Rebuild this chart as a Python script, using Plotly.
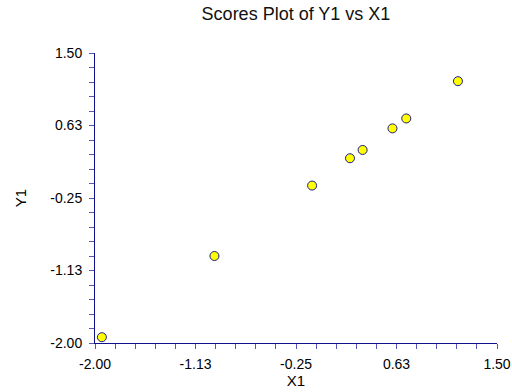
import plotly.graph_objects as go

# Data
x1_scores = [-1.94, -0.96, -0.11, 0.22, 0.33, 0.59, 0.71, 1.16]
y1_scores = [-1.93, -0.95, -0.10, 0.23, 0.33, 0.59, 0.71, 1.16]

tick_vals = [-2.0, -1.125, -0.25, 0.625, 1.5]
tick_text = ["-2.00", "-1.13", "-0.25", "0.63", "1.50"]
minor_step = 0.175
axis_range = [-2.0, 1.5]

title_text = "Scores Plot of Y1 vs X1"
x_title = "X1"
y_title = "Y1"

FONT = "Liberation Sans, Arial, sans-serif"
LINE_COLOR = "#10108a"
TICK_COLOR = "#5858b4"

fig = go.Figure(
    go.Scatter(
        x=x1_scores,
        y=y1_scores,
        mode="markers",
        marker=dict(symbol="circle", size=9, color="#FFFF00",
                    line=dict(color="#1c1c90", width=1)),
        cliponaxis=False,
        hoverinfo="x+y",
    )
)

axis_common = dict(
    range=axis_range,
    automargin=False,
    tickmode="array",
    tickvals=tick_vals,
    ticktext=tick_text,
    ticks="outside",
    ticklen=5,
    tickwidth=1,
    tickcolor=TICK_COLOR,
    showline=True,
    linecolor=LINE_COLOR,
    linewidth=1,
    showgrid=False,
    zeroline=False,
    tickfont=dict(family=FONT, size=14, color="#000000"),
    minor=dict(tick0=-2.0, dtick=minor_step, ticks="outside", ticklen=5,
               tickwidth=1, tickcolor=TICK_COLOR, showgrid=False),
    title_font=dict(family=FONT, size=15, color="#000000"),
)

fig.update_xaxes(**axis_common, title_text=x_title, title_standoff=2,
                 ticklabelstandoff=3)
fig.update_yaxes(**axis_common, title_text=y_title, title_standoff=20,
                 ticklabelstandoff=4)

fig.update_layout(
    width=512,
    height=392,
    margin=dict(l=95, r=15, t=53, b=49),
    paper_bgcolor="white",
    plot_bgcolor="white",
    showlegend=False,
    title=dict(text=title_text, x=0.5, xref="paper", xanchor="center",
               y=0.982, yref="container", yanchor="top",
               font=dict(family=FONT, size=18, color="#111111")),
)

fig.write_html(
    "out.html",
    config={"displayModeBar": False},
    post_script="document.body.style.margin='0';document.body.style.overflow='hidden';",
)
